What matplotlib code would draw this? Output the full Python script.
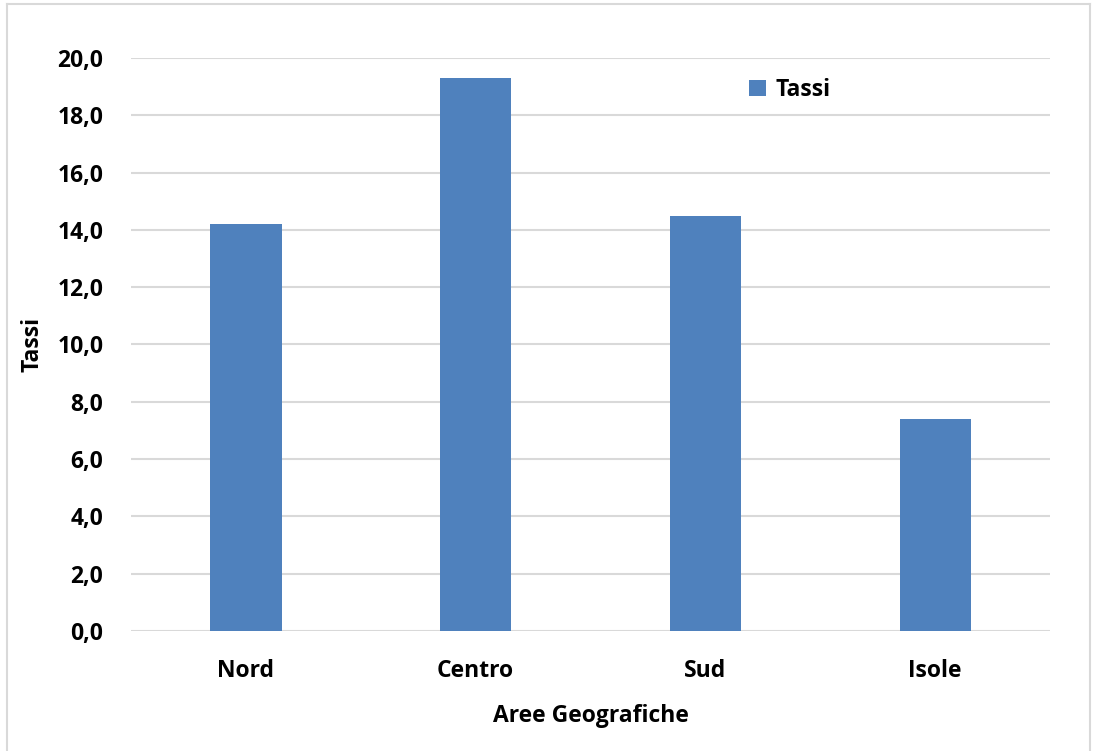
import matplotlib
matplotlib.use("Agg")
import matplotlib.pyplot as plt
from matplotlib.lines import Line2D

aree = ["Nord", "Centro", "Sud", "Isole"]
tassi = [14.2, 19.3, 14.5, 7.4]
yticks = [0, 2, 4, 6, 8, 10, 12, 14, 16, 18, 20]

plt.rcParams['font.family'] = ['Open Sans', 'DejaVu Sans']
plt.rcParams['font.weight'] = 'bold'

fig = plt.figure(figsize=(10.93, 7.51), dpi=100)
ax = fig.add_axes([0.1199, 0.1598, 0.8408, 0.763])

x = range(len(aree))
ax.bar(x, tassi, width=0.31, color="#4F81BD", label="Tassi", zorder=3)

ax.set_xlim(-0.5, len(aree) - 0.5)
ax.set_ylim(0, 20)
ax.set_yticks(yticks)
ax.set_yticklabels([f"{v:.1f}".replace(".", ",") for v in yticks])
ax.set_xticks(list(x))
ax.set_xticklabels(aree)
ax.tick_params(axis="both", length=0, labelsize=16.5, colors="black")
ax.tick_params(axis="y", pad=20)
ax.tick_params(axis="x", pad=20)
for lbl in ax.get_xticklabels() + ax.get_yticklabels():
    lbl.set_fontweight("bold")

ax.grid(axis="y", color="#d9d9d9", linewidth=1.5, zorder=0)
for s in ax.spines.values():
    s.set_visible(False)

ax.set_xlabel("Aree Geografiche", fontsize=16.5, fontweight="bold", labelpad=15)
ax.set_ylabel("Tassi", fontsize=16.5, fontweight="bold", labelpad=9)

ax.legend(loc="center", bbox_to_anchor=(0.717, 0.944), frameon=False,
          prop={"size": 16.5, "weight": "bold"}, handlelength=0.75,
          handleheight=0.75, handletextpad=0.4)

# outer chart frame
frame_kw = dict(color="#d9d9d9", linewidth=1.5, transform=fig.transFigure)
l, r, t = 7 / 1093, 1090 / 1093, 1 - 4 / 751
fig.add_artist(Line2D([l, l], [0, t], **frame_kw))
fig.add_artist(Line2D([l, r], [t, t], **frame_kw))
fig.add_artist(Line2D([r, r], [0, t], **frame_kw))

fig.savefig("out.png", dpi=100)
